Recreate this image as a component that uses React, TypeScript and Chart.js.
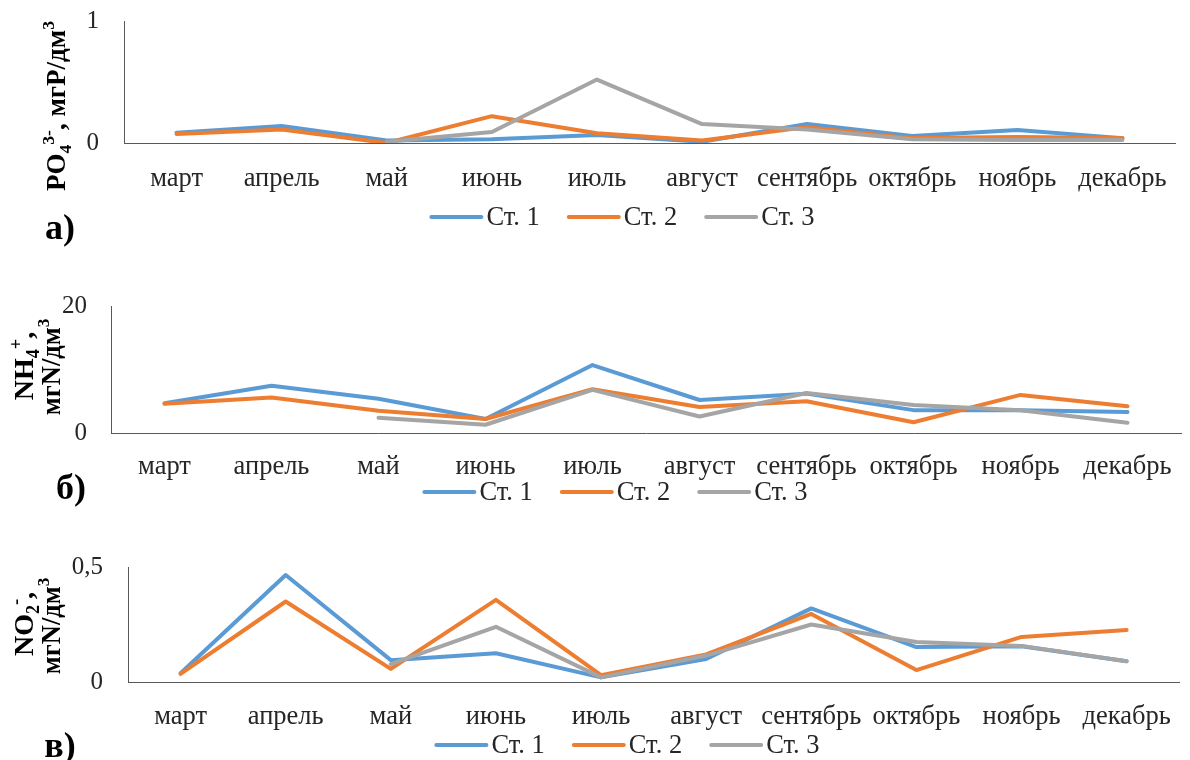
import React, { useEffect, useRef } from 'react';
import { Chart, registerables } from 'chart.js';

Chart.register(...registerables);

// ---------- DATA ----------
const months = ['март', 'апрель', 'май', 'июнь', 'июль', 'август', 'сентябрь', 'октябрь', 'ноябрь', 'декабрь'];
const seriesLabels = ['Ст. 1', 'Ст. 2', 'Ст. 3'];
const seriesColors = ['#5B9BD5', '#ED7D31', '#A5A5A5'];

// а) PO4 3-, мгP/дм3
const po4St1 = [0.085, 0.14, 0.02, 0.03, 0.066, 0.01, 0.155, 0.057, 0.107, 0.04];
const po4St2 = [0.074, 0.11, 0.0, 0.22, 0.08, 0.02, 0.13, 0.04, 0.05, 0.04];
const po4St3 = [null, null, 0.01, 0.09, 0.52, 0.155, 0.11, 0.03, 0.025, 0.025];
const po4Max = 1;

// б) NH4+, мгN/дм3
const nh4St1 = [4.7, 7.45, 5.4, 2.2, 10.7, 5.2, 6.2, 3.6, 3.6, 3.3];
const nh4St2 = [4.6, 5.6, 3.5, 2.2, 6.9, 4.1, 5.0, 1.7, 6.0, 4.2];
const nh4St3 = [null, null, 2.4, 1.3, 6.8, 2.6, 6.3, 4.4, 3.6, 1.6];
const nh4Max = 20;

// в) NO2-, мгN/дм3
const no2St1 = [0.038, 0.465, 0.095, 0.125, 0.02, 0.1, 0.32, 0.152, 0.155, 0.09];
const no2St2 = [0.035, 0.35, 0.057, 0.357, 0.03, 0.12, 0.296, 0.052, 0.196, 0.226];
const no2St3 = [null, null, 0.078, 0.24, 0.02, 0.115, 0.25, 0.174, 0.157, 0.09];
const no2Max = 0.5;

// ---------- STYLE ----------
const FONT = '"Liberation Serif", "Times New Roman", serif';
const TEXT = '#262626';
const CAT_SIZE = 26.5;
const LEGEND_SIZE = 26.5;

type Run = { t: string; s?: number; dy?: number };
type TitleLine = { runs: Run[]; size: number; cx: number; cy: number };

type PanelCfg = {
  top: number;
  height: number;
  data: (number | null)[][];
  yMax: number;
  padding: { top: number; left: number; right: number; bottom: number };
  yWidth: number;
  yTickPad: number;
  xHeight: number;
  xTickPad: number;
  legend: { cx: number; cy: number };
  titles: TitleLine[];
  letter: { t: string; x: number; y: number };
};

const SUB = 0.65;
const subRun = (t: string): Run => ({ t, s: SUB, dy: 0.22 });
const supRun = (t: string): Run => ({ t, s: SUB, dy: -0.4 });

function drawRotatedRich(ctx: CanvasRenderingContext2D, line: TitleLine) {
  const { runs, size, cx, cy } = line;
  ctx.save();
  ctx.translate(cx, cy);
  ctx.rotate(-Math.PI / 2);
  let total = 0;
  const widths = runs.map((r) => {
    ctx.font = `bold ${size * (r.s ?? 1)}px ${FONT}`;
    const w = ctx.measureText(r.t).width;
    total += w;
    return w;
  });
  let x = -total / 2;
  const base = size * 0.33;
  ctx.fillStyle = '#000';
  ctx.textAlign = 'left';
  ctx.textBaseline = 'alphabetic';
  runs.forEach((r, i) => {
    ctx.font = `bold ${size * (r.s ?? 1)}px ${FONT}`;
    ctx.fillText(r.t, x, base + (r.dy ?? 0) * size);
    x += widths[i];
  });
  ctx.restore();
}

const LEG_LINE = 54;
const LEG_GAP = 3;
const LEG_SPACING = 27;

function drawLegend(chart: any, cx: number, cy: number) {
  const ctx: CanvasRenderingContext2D = chart.ctx;
  const items = chart.data.datasets.map((ds: any) => ({ text: ds.label as string, color: ds.borderColor as string, w: ds.borderWidth as number }));
  ctx.save();
  ctx.font = `${LEGEND_SIZE}px ${FONT}`;
  const tw = items.map((it: any) => ctx.measureText(it.text).width);
  let total = 0;
  items.forEach((_: any, i: number) => {
    total += LEG_LINE + LEG_GAP + tw[i] + (i < items.length - 1 ? LEG_SPACING : 0);
  });
  let x = cx - total / 2;
  items.forEach((it: any, i: number) => {
    ctx.beginPath();
    ctx.strokeStyle = it.color;
    ctx.lineWidth = it.w;
    ctx.lineCap = 'round';
    ctx.moveTo(x + it.w / 2, cy);
    ctx.lineTo(x + LEG_LINE - it.w / 2, cy);
    ctx.stroke();
    x += LEG_LINE + LEG_GAP;
    ctx.fillStyle = TEXT;
    ctx.textAlign = 'left';
    ctx.textBaseline = 'middle';
    ctx.fillText(it.text, x, cy + 1);
    x += tw[i] + LEG_SPACING;
  });
  ctx.restore();
}

const panels: PanelCfg[] = [
  {
    top: 0,
    height: 255,
    data: [po4St1, po4St2, po4St3],
    yMax: po4Max,
    padding: { top: 21, left: 69, right: 15, bottom: 52 },
    yWidth: 55,
    yTickPad: 25,
    xHeight: 60,
    xTickPad: 20,
    legend: { cx: 622, cy: 217 },
    titles: [
      {
        runs: [{ t: 'PO' }, subRun('4'), supRun('3-'), { t: ', мгP/дм' }, supRun('3')],
        size: 27,
        cx: 56,
        cy: 106,
      },
    ],
    letter: { t: 'а)', x: 60, y: 230 },
  },
  {
    top: 255,
    height: 260,
    data: [nh4St1, nh4St2, nh4St3],
    yMax: nh4Max,
    padding: { top: 51, left: 49, right: 7, bottom: 22 },
    yWidth: 62,
    yTickPad: 24,
    xHeight: 60,
    xTickPad: 18,
    legend: { cx: 615, cy: 237 },
    titles: [
      { runs: [{ t: 'NH' }, subRun('4'), supRun('+'), { t: ',' }], size: 28, cx: 24, cy: 111 },
      { runs: [{ t: 'мгN/дм' }, supRun('3')], size: 26.5, cx: 51, cy: 112 },
    ],
    letter: { t: 'б)', x: 71, y: 235 },
  },
  {
    top: 505,
    height: 255,
    data: [no2St1, no2St2, no2St3],
    yMax: no2Max,
    padding: { top: 62, left: 68, right: 4, bottom: 18 },
    yWidth: 60,
    yTickPad: 25,
    xHeight: 60,
    xTickPad: 19,
    legend: { cx: 627, cy: 240 },
    titles: [
      { runs: [{ t: 'NO' }, subRun('2'), supRun('-'), { t: ',' }], size: 28, cx: 24, cy: 119 },
      { runs: [{ t: 'мгN/дм' }, supRun('3')], size: 26.5, cx: 51, cy: 121 },
    ],
    letter: { t: 'в)', x: 60, y: 243 },
  },
];

function Panel({ cfg }: { cfg: PanelCfg }) {
  const ref = useRef<HTMLCanvasElement | null>(null);

  useEffect(() => {
    if (!ref.current) return;
    const decor = {
      id: 'decor' + cfg.top,
      afterDraw(chart: any) {
        const ctx: CanvasRenderingContext2D = chart.ctx;
        cfg.titles.forEach((l) => drawRotatedRich(ctx, l));
        ctx.save();
        ctx.font = `bold 36px ${FONT}`;
        ctx.fillStyle = '#000';
        ctx.textAlign = 'center';
        ctx.textBaseline = 'middle';
        ctx.fillText(cfg.letter.t, cfg.letter.x, cfg.letter.y);
        ctx.restore();
        drawLegend(chart, cfg.legend.cx, cfg.legend.cy);
      },
    };

    const chart = new Chart(ref.current, {
      type: 'line',
      data: {
        labels: months,
        datasets: cfg.data.map((d, i) => ({
          label: seriesLabels[i],
          data: d,
          borderColor: seriesColors[i],
          backgroundColor: seriesColors[i],
          borderWidth: 4,
          borderJoinStyle: 'round' as const,
          borderCapStyle: 'round' as const,
          pointRadius: 0,
          pointHoverRadius: 0,
          tension: 0,
          spanGaps: false,
          fill: false,
          order: 2 - i,
        })),
      },
      options: {
        animation: false,
        responsive: false,
        devicePixelRatio: 1,
        events: [],
        layout: { padding: cfg.padding },
        plugins: {
          tooltip: { enabled: false },
          legend: { display: false },
        },
        scales: {
          x: {
            type: 'category',
            offset: true,
            grid: { display: false, drawTicks: false, offset: true },
            border: { display: true, color: '#595959', width: 1 },
            ticks: {
              autoSkip: false,
              maxRotation: 0,
              minRotation: 0,
              padding: cfg.xTickPad,
              color: TEXT,
              font: { family: FONT, size: CAT_SIZE },
            },
            afterFit: (s: any) => {
              s.height = cfg.xHeight;
            },
          },
          y: {
            min: 0,
            max: cfg.yMax,
            grid: { display: false, drawTicks: false },
            border: { display: true, color: '#595959', width: 1 },
            ticks: {
              stepSize: cfg.yMax,
              padding: cfg.yTickPad,
              color: TEXT,
              font: { family: FONT, size: 25 },
              callback: (v: any) => String(v).replace('.', ','),
            },
            afterFit: (s: any) => {
              s.width = cfg.yWidth;
              s.paddingTop = 0;
              s.paddingBottom = 0;
            },
          },
        },
      },
      plugins: [decor],
    } as any);

    return () => chart.destroy();
  }, [cfg]);

  return (
    <canvas
      ref={ref}
      width={1190}
      height={cfg.height}
      style={{ position: 'absolute', left: 0, top: cfg.top, width: 1190, height: cfg.height }}
    />
  );
}

export default function App() {
  return (
    <div
      style={{
        position: 'fixed',
        left: 0,
        top: 0,
        width: 1190,
        height: 760,
        overflow: 'hidden',
        background: '#ffffff',
      }}
    >
      {panels.map((p) => (
        <Panel key={p.top} cfg={p} />
      ))}
    </div>
  );
}
